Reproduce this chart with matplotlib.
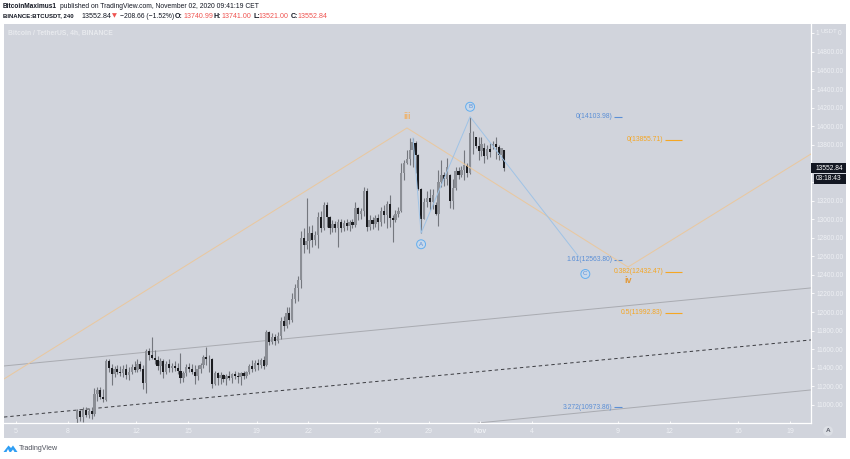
import numpy as np
import matplotlib
matplotlib.use('Agg')
import matplotlib.pyplot as plt
from matplotlib.patches import Rectangle, Polygon

plt.rcParams['font.family'] = ['Liberation Sans', 'DejaVu Sans']

# 4h candles, 8 Oct 12:00 -> 2 Nov 08:00. x unit is day of October (Nov 1 = 32)
first_day = 8.56
opens = [10850, 10930, 10870, 10950, 10890, 10940, 10900, 11120, 11160, 11090,
         11050, 11470, 11400, 11330, 11390, 11360, 11340, 11390, 11320, 11350,
         11410, 11380, 11440, 11390, 11240, 11580, 11540, 11510, 11480, 11420,
         11470, 11350, 11440, 11400, 11420, 11400, 11370, 11290, 11340, 11410,
         11390, 11360, 11310, 11390, 11430, 11520, 11500, 11490, 11230, 11340,
         11290, 11320, 11280, 11310, 11290, 11330, 11310, 11300, 11340, 11310,
         11350, 11420, 11390, 11450, 11430, 11480, 11430, 11790, 11680, 11730,
         11690, 11740, 11900, 11850, 11990, 11920, 12140, 12260, 12340, 12800,
         12720, 12760, 12850, 12780, 12830, 13020, 12900, 13150, 13020, 12900,
         12950, 12910, 12970, 12900, 12960, 12930, 12970, 12940, 13120, 13060,
         13090, 13300, 12920, 12990, 12950, 13010, 12970, 13090, 13050, 13160,
         13010, 12990, 13060, 13090, 13500, 13600, 13650, 13750, 13820, 13690,
         13330, 13000, 13190, 13230, 13180, 13150, 13060, 13400, 13480, 13430,
         13480, 13200, 13340, 13520, 13480, 13530, 13580, 13500, 13760, 13880,
         13790, 13730, 13770, 13680, 13760, 13790, 13810, 13780, 13690, 13740.99]
highs = [10960, 10950, 10980, 10980, 10970, 10980, 11180, 11190, 11190, 11170,
         11500, 11490, 11440, 11420, 11430, 11420, 11430, 11440, 11410, 11440,
         11470, 11490, 11470, 11430, 11600, 11610, 11730, 11590, 11530, 11510,
         11500, 11470, 11500, 11450, 11470, 11450, 11560, 11370, 11440, 11450,
         11440, 11430, 11430, 11450, 11540, 11620, 11540, 11510, 11370, 11350,
         11350, 11330, 11330, 11370, 11340, 11370, 11360, 11360, 11370, 11370,
         11440, 11480, 11480, 11490, 11510, 11530, 11810, 11800, 11780, 11760,
         11790, 11950, 11960, 12050, 12060, 12200, 12300, 12390, 12870, 12910,
         13230, 12930, 12940, 12870, 13080, 13090, 13190, 13190, 13030, 12990,
         12980, 13000, 13000, 12990, 13000, 12990, 13000, 13180, 13130, 13120,
         13350, 13340, 13040, 13020, 13040, 13060, 13130, 13150, 13200, 13260,
         13040, 13100, 13130, 13610, 13640, 13740, 13870, 13875, 13840, 13700,
         13340, 13230, 13300, 13320, 13320, 13180, 13530, 13640, 13510, 13660,
         13490, 13430, 13560, 13560, 13570, 13750, 13600, 14103, 13950, 13890,
         13890, 13880, 13820, 13800, 13820, 13840, 13880, 13800, 13770, 13741]
lows = [10790, 10830, 10820, 10870, 10860, 10850, 10880, 11040, 11060, 11030,
        11040, 11350, 11220, 11300, 11330, 11310, 11300, 11280, 11270, 11330,
        11350, 11350, 11370, 11170, 11130, 11480, 11490, 11440, 11380, 11330,
        11290, 11330, 11360, 11350, 11370, 11330, 11240, 11250, 11310, 11350,
        11330, 11230, 11270, 11340, 11400, 11430, 11360, 11180, 11210, 11220,
        11230, 11250, 11210, 11270, 11240, 11280, 11240, 11210, 11280, 11290,
        11330, 11350, 11370, 11380, 11400, 11390, 11420, 11650, 11660, 11650,
        11670, 11710, 11800, 11830, 11870, 11890, 12100, 12120, 12260, 12640,
        12680, 12640, 12700, 12720, 12690, 12860, 12880, 12920, 12840, 12860,
        12860, 12700, 12860, 12870, 12880, 12870, 12900, 12920, 12990, 13000,
        13030, 12870, 12880, 12890, 12920, 12880, 12930, 12960, 12900, 12920,
        12750, 12970, 13020, 13080, 13420, 13590, 13580, 13560, 13500, 13310,
        12850, 13000, 13130, 13100, 13110, 13040, 12930, 13350, 13360, 13370,
        13120, 13110, 13310, 13430, 13450, 13420, 13450, 13490, 13700, 13770,
        13640, 13680, 13600, 13650, 13670, 13760, 13650, 13640, 13640, 13521]
closes = [10930, 10870, 10950, 10890, 10940, 10900, 11120, 11160, 11090, 11060,
          11470, 11400, 11330, 11390, 11360, 11340, 11390, 11320, 11350, 11410,
          11380, 11440, 11390, 11240, 11580, 11540, 11510, 11480, 11420, 11470,
          11350, 11440, 11400, 11420, 11400, 11370, 11290, 11340, 11410, 11390,
          11360, 11310, 11390, 11430, 11520, 11500, 11490, 11230, 11340, 11290,
          11320, 11280, 11310, 11290, 11330, 11310, 11300, 11340, 11310, 11350,
          11420, 11390, 11450, 11430, 11480, 11420, 11790, 11680, 11730, 11690,
          11740, 11900, 11850, 11990, 11920, 12140, 12260, 12340, 12800, 12720,
          12760, 12850, 12780, 12830, 13020, 12900, 13150, 13020, 12900, 12950,
          12910, 12970, 12900, 12960, 12930, 12970, 12940, 13120, 13060, 13090,
          13300, 12920, 12990, 12950, 13010, 12970, 13090, 13050, 13160, 13010,
          12990, 13060, 13090, 13500, 13600, 13650, 13750, 13830, 13690, 13330,
          13000, 13190, 13230, 13180, 13260, 13060, 13400, 13480, 13430, 13560,
          13200, 13340, 13520, 13480, 13530, 13580, 13500, 13930, 13760, 13790,
          13730, 13810, 13680, 13760, 13720, 13810, 13780, 13690, 13761.5, 13552.84]

# drawn lines (day, price)
wave_x = [4.3, 27.73, 40.58, 51.22]
wave_y = [11280, 13982, 12485, 13702]
abc_x = [28.08, 28.55, 31.4, 37.73]
abc_y = [13874, 12850, 14103, 12593]
upper_x = [4.3, 51.22]
upper_y = [11420, 12260]
mid_x = [4.3, 51.22]
mid_y = [10870, 11700]
lower_x = [31.86, 51.22]
lower_y = [10806, 11162]

# fib levels
blue_fib_labels = ['0(14103.98)', '1.61(12563.80)', '3.272(10973.86)']
blue_fib_prices = [14103.98, 12563.80, 10973.86]
orange_fib_labels = ['0(13855.71)', '0.382(12432.47)', '0.5(11992.83)']
orange_fib_prices = [13855.71, 12432.47, 11992.83]

# axis ticks
xtick_days = [5, 8, 12, 15, 19, 22, 26, 29, 32, 35, 40, 43, 47, 50]
xtick_labels = ['5', '8', '12', '15', '19', '22', '26', '29', 'Nov', '4', '9', '12', '16', '19']
ytick_prices = list(range(11000, 15200, 200))
# these three sit under the USDT tag and the two dark price boxes
hidden_ticks = [15000, 13600, 13400]

W, H = 850, 459
BG = '#d1d4dc'
AXIS_TXT = '#eef0f4'
ORANGE = '#f5a623'
BLUE = '#5b8fd6'
DARK = '#131722'
RED = '#ef5350'


def fx(px):
    return px / W


def fy(py):
    return 1 - py / H


fig = plt.figure(figsize=(W / 100, H / 100), dpi=100, facecolor='white')

# grey panel behind chart and axes
panel = fig.add_axes([fx(4), fy(438), fx(842), 414 / H], facecolor=BG)
panel.set_xticks([])
panel.set_yticks([])
for s in panel.spines.values():
    s.set_visible(False)

ax = fig.add_axes([fx(4), fy(423), fx(807), 399 / H], facecolor='none')
ax.set_xlim(4.3, 51.22)
ax.set_ylim(10806, 15101)

x = first_day + np.arange(len(opens)) / 6
o = np.array(opens)
c = np.array(closes)
up = c >= o

ax.vlines(x, lows, highs, color='#74777e', lw=0.8, zorder=2)
ax.bar(x[up], (c - o)[up], bottom=o[up], width=0.14, color='#8b8e95', lw=0, zorder=2.1)
ax.bar(x[~up], (c - o)[~up], bottom=o[~up], width=0.125, color='#1b1c20', lw=0, zorder=2.2)

ax.plot(upper_x, upper_y, color='#a9abb1', lw=0.7, zorder=1.5)
ax.plot(mid_x, mid_y, color='#3a3b40', lw=0.7, ls=(0, (3.5, 3)), zorder=1.5)
ax.plot(lower_x, lower_y, color='#a9abb1', lw=0.7, zorder=1.5)
ax.plot(wave_x, wave_y, color='#e9c8a0', lw=0.75, zorder=3)
ax.plot(abc_x, abc_y, color='#9fc3e6', lw=0.7, zorder=3)

for label, price in zip(blue_fib_labels, blue_fib_prices):
    ax.hlines(price, 39.77, 40.23, color=BLUE, lw=0.8)
    ax.text(39.65, price, label, color=BLUE, fontsize=4.9, ha='right', va='center')
for label, price in zip(orange_fib_labels, orange_fib_prices):
    ax.hlines(price, 42.73, 43.72, color=ORANGE, lw=0.8)
    ax.text(42.62, price, label, color=ORANGE, fontsize=4.9, ha='right', va='center')

ax.text(27.73, 14100, 'iii', color='#eeb36e', fontsize=6.5, fontweight='bold', ha='center', va='center')
ax.text(40.58, 12335, 'iv', color='#e29a3a', fontsize=6.5, fontweight='bold', ha='center', va='center')
for name, day, price in [('A', 28.55, 12730), ('B', 31.4, 14210), ('C', 38.1, 12410)]:
    ax.text(day, price, name, color=BLUE, fontsize=4.4, ha='center', va='center',
            bbox=dict(boxstyle='circle,pad=0.32', fc='#c8d8ea', ec='#62aef0', lw=0.7))

ax.xaxis.set_ticks(xtick_days, xtick_labels)
ax.yaxis.tick_right()
ax.set_yticks(ytick_prices, ['' if p in hidden_ticks else '%.2f' % p for p in ytick_prices])
ax.tick_params(axis='x', direction='in', length=1.5, width=0.6, color='white',
               labelcolor=AXIS_TXT, labelsize=5, pad=3.5)
ax.tick_params(axis='y', direction='out', length=2.2, width=0.6, color='white',
               labelcolor=AXIS_TXT, labelsize=4.7, pad=1.8)
for lab in ax.get_xticklabels():
    if lab.get_text() == 'Nov':
        lab.set_fontweight('bold')
ax.spines['top'].set_visible(False)
ax.spines['left'].set_visible(False)
ax.spines['right'].set_color('white')
ax.spines['bottom'].set_color('white')
ax.spines['right'].set_linewidth(0.9)
ax.spines['bottom'].set_linewidth(0.9)


def ftext(px, py, s, **kw):
    kw.setdefault('fontsize', 5.1)
    kw.setdefault('color', '#131722')
    kw.setdefault('va', 'center')
    return fig.text(fx(px), fy(py), s, **kw)


# header
ftext(3, 6.5, 'BitcoinMaximus1', fontweight='bold', fontsize=4.7)
ftext(60, 6.5, 'published on TradingView.com, November 02, 2020 09:41:19 CET', fontsize=4.85)
ftext(3, 16, 'BINANCE:BTCUSDT, 240', fontweight='bold', fontsize=4.3)
ftext(81, 16, '13552.84')
ftext(111.5, 16, '\u25bc', color=RED, fontsize=4.6, family=['DejaVu Sans'])
ftext(120, 16, '\u2212208.66 (\u22121.52%)', fontsize=4.9)
for letter, lx, value, vx in [('O:', 175, '13740.99', 184), ('H:', 214, '13741.00', 222),
                              ('L:', 253, '13521.00', 258.5), ('C:', 291, '13552.84', 298)]:
    ftext(lx, 16, letter, fontweight='bold')
    ftext(vx, 16, value, color=RED)

# watermark
ftext(8, 33, 'Bitcoin / TetherUS, 4h, BINANCE', color='#e8eaee', fontweight='bold', fontsize=4.9)

# USDT tag leaves only the ends of 15000.00 showing
ftext(817, 33.5, '1', color=AXIS_TXT, fontsize=4.7, ha='center')
ftext(829, 31.5, 'USDT', color=AXIS_TXT, fontsize=4.4, ha='center')
ftext(840, 33.5, '0', color=AXIS_TXT, fontsize=4.7, ha='center')

# last price + countdown boxes
fig.add_artist(Rectangle((fx(810.5), fy(173)), 35.5 / W, 10 / H, transform=fig.transFigure,
                         fc=DARK, ec='none', zorder=5))
fig.add_artist(Rectangle((fx(814), fy(184)), 32 / W, 10 / H, transform=fig.transFigure,
                         fc=DARK, ec='none', zorder=5))
ftext(829, 168, '13552.84', color='white', fontsize=4.8, ha='center', zorder=6)
ftext(829, 179, '03:18:43', color='white', fontsize=4.8, ha='center', zorder=6)

# A button
fig.add_artist(plt.Circle((828, H - 431), 5, transform=None, fc='#dcdfe5', ec='none', zorder=5))
ftext(828, 431, 'A', color='#5d606b', fontsize=4.6, ha='center', fontweight='bold', zorder=6)

# TradingView logo
logo = [[3.5, 452], [8.5, 445.5], [11, 448], [13, 445.5], [17.5, 452], [14.5, 452], [13, 449.5],
        [11, 452], [9.5, 452], [8, 449], [6.5, 452]]
fig.add_artist(Polygon([[fx(a), fy(b)] for a, b in logo], transform=fig.transFigure,
                       fc='#2e9ef4', ec='none', zorder=5))
ftext(19, 449, 'TradingView', color='#50535e', fontsize=5.1)

fig.savefig('out.png', dpi=100, facecolor='white')
